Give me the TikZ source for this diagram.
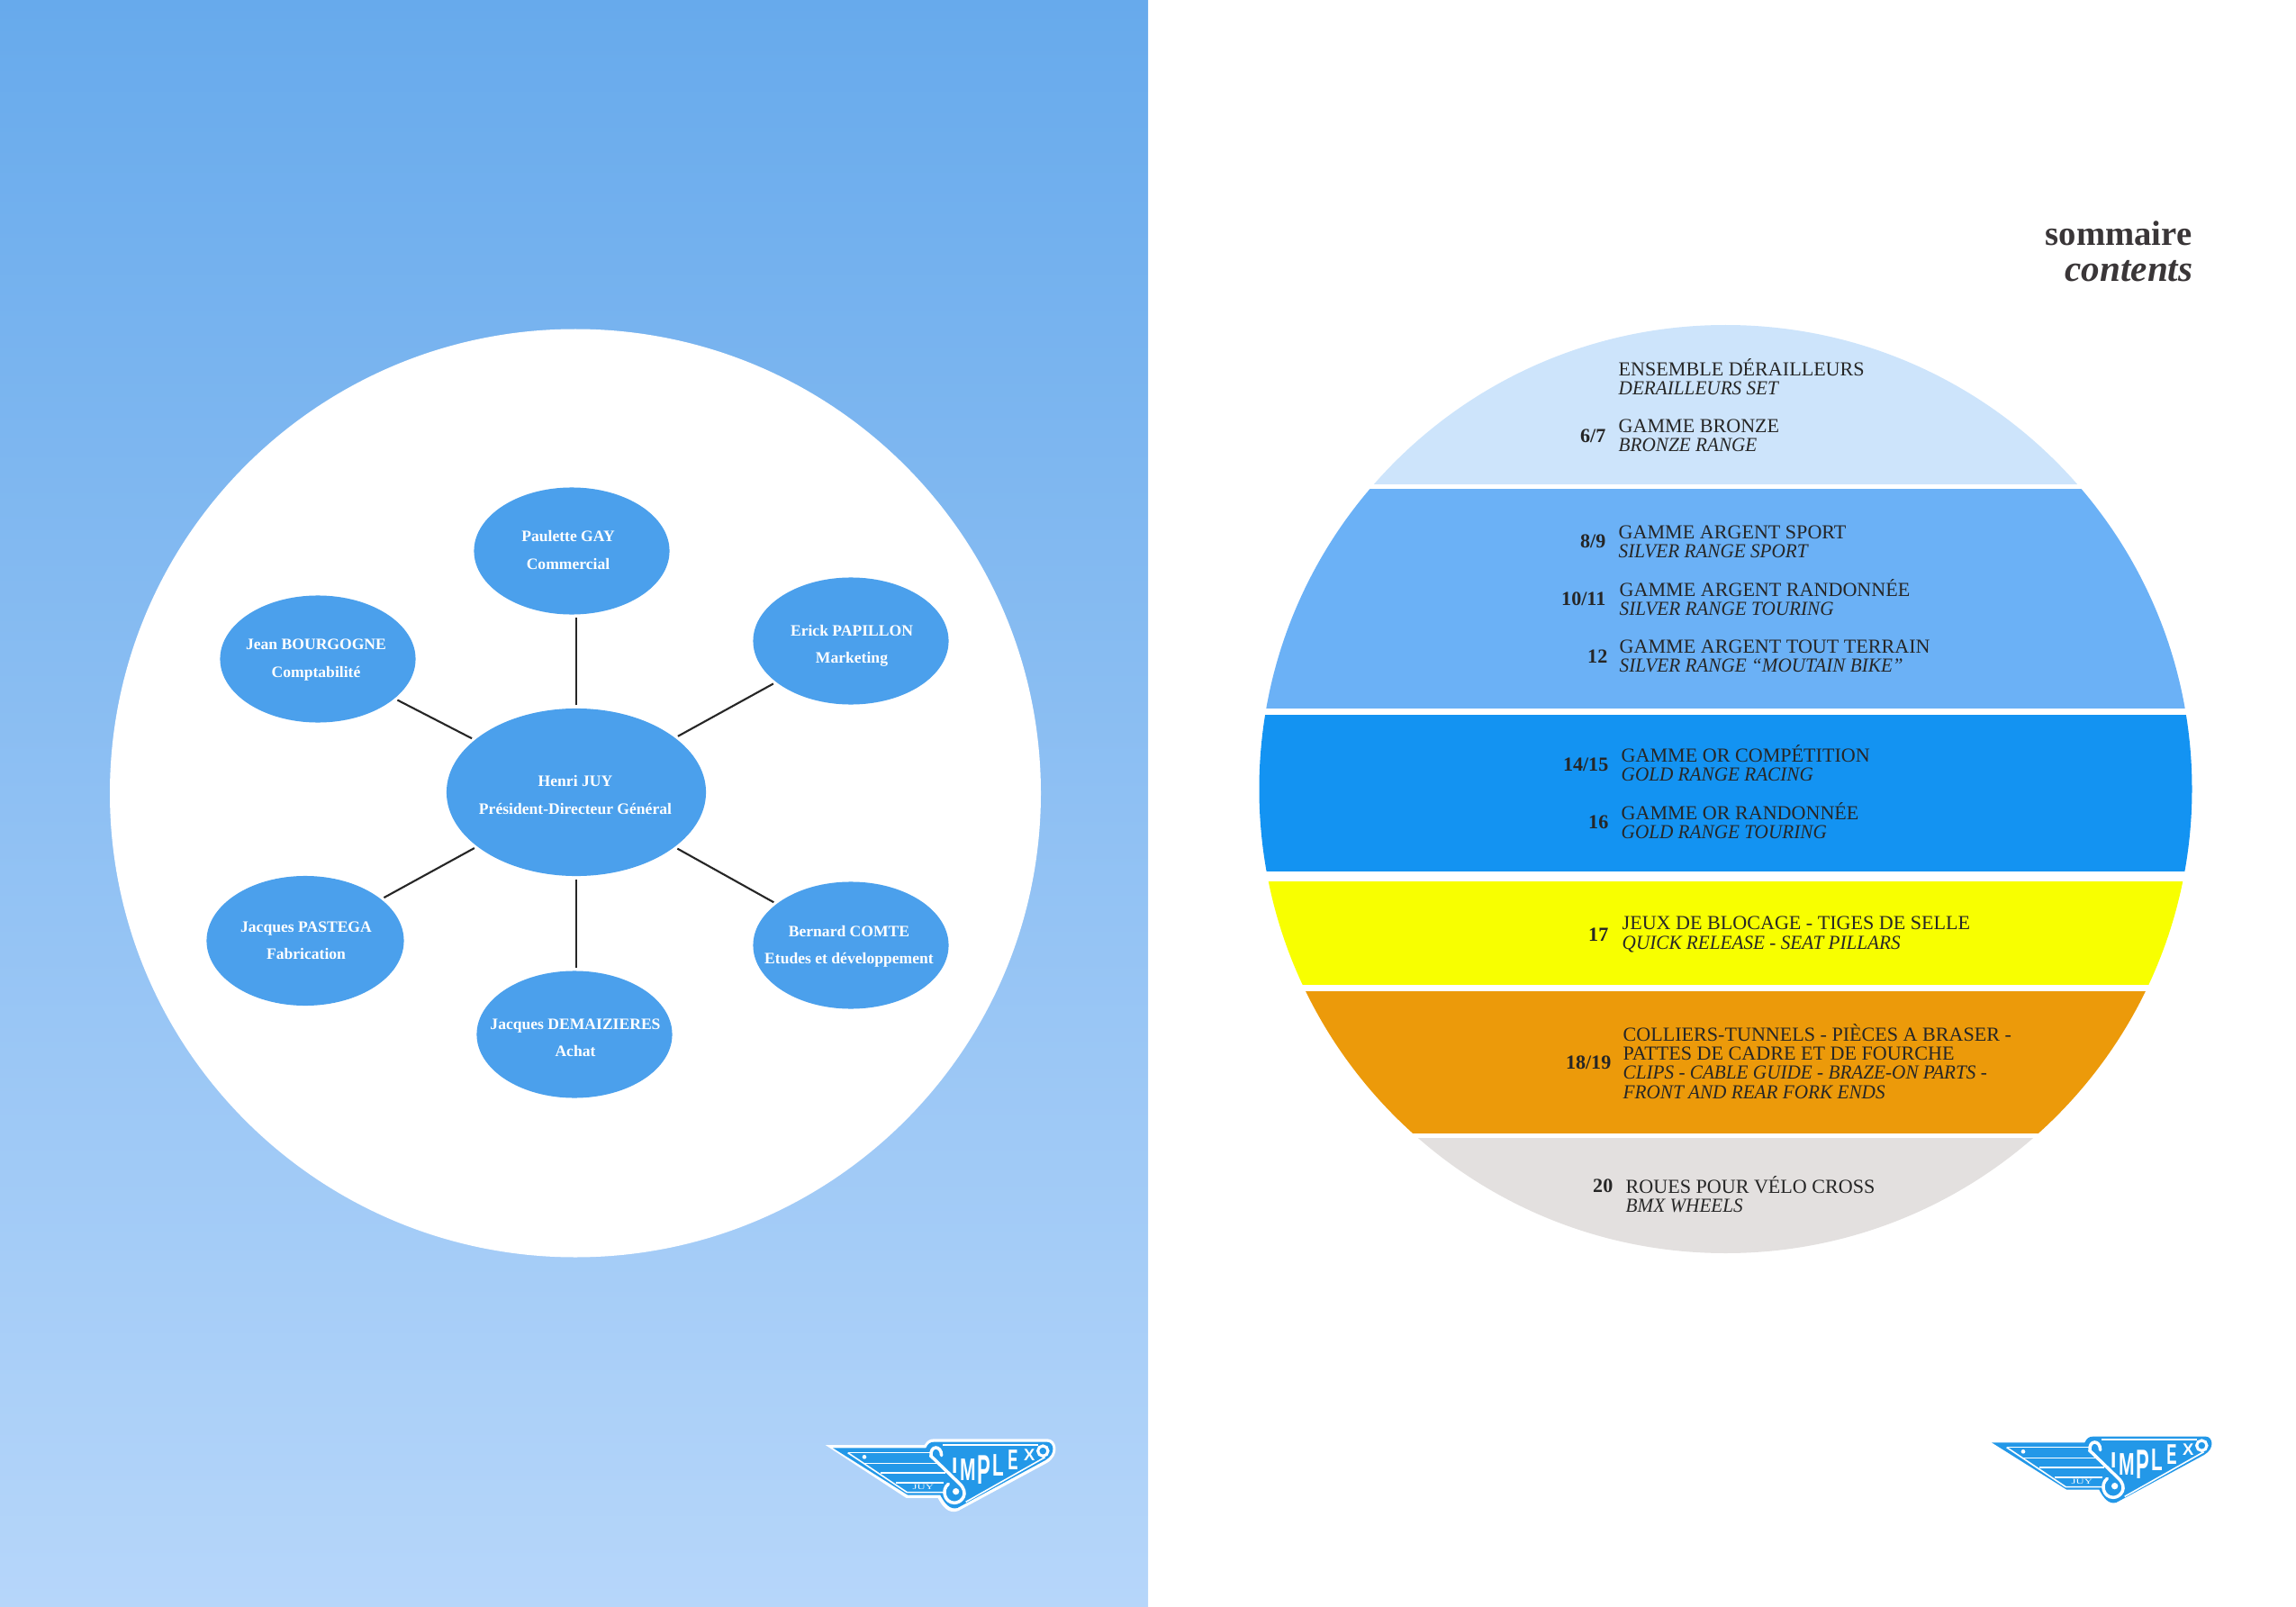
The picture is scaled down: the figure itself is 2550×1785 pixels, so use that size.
\documentclass[tikz,border=0pt]{standalone}
\usepackage{tikz}
\usepackage{fontspec}
\setmainfont{Liberation Serif}[ItalicFeatures={FakeStretch=0.96}]
\newfontfamily\logoface{Liberation Sans}
\usetikzlibrary{shapes.geometric}

\definecolor{skytop}{HTML}{67AAEC}
\definecolor{skymid}{HTML}{86BBF3}
\definecolor{skylow}{HTML}{B6D6FA}
\definecolor{staffblue}{HTML}{4BA0EC}
\definecolor{logoblue}{HTML}{2398E8}
\definecolor{bandpale}{HTML}{CDE4FB}
\definecolor{bandsilver}{HTML}{6BB1F6}
\definecolor{bandgold}{HTML}{1393F2}
\definecolor{bandyellow}{HTML}{F8FF00}
\definecolor{bandorange}{HTML}{EC9A0A}
\definecolor{bandgrey}{HTML}{E3E0DF}
\definecolor{inkdark}{HTML}{3A3638}

\tikzset{
  simplexlogo/.pic={
    \begin{scope}[scale=0.3333]
      \fill[white]
        (110,135) -- (440,135) .. controls (450,120) and (458,115) .. (472,115)
        -- (850,115) .. controls (882,115) and (892,170) .. (848,195)
        -- (552,355) .. controls (520,366) and (500,340) .. (485,312)
        -- (380,312) -- cycle;
      \fill[logoblue]
        (135,145) -- (445,145) .. controls (452,131) and (460,125) .. (472,125)
        -- (848,125) .. controls (872,125) and (880,165) .. (843,186)
        -- (550,345) .. controls (525,352) and (508,330) .. (493,302)
        -- (385,302) -- cycle;
      \begin{scope}[white,line width=0.45pt]
        \draw (185,161) -- (460,161);
        \draw (240,196) -- (482,196);
        \draw (295,228) -- (510,228);
        \draw (345,261) -- (505,261);
        \draw (185,161) -- (382,293) -- (503,293);
        \draw (500,135) -- (818,135);
        \draw (842,176) -- (578,325);
      \end{scope}
      \fill[white] (240,175) circle (7);
      \node[white,inner sep=0] (juy) at (436,276) {\resizebox{6.6pt}{1.5pt}{JUY}};
      \draw[white,line width=1pt,line cap=round]
        (497,170) .. controls (497,135) and (458,135) .. (462,172)
        -- (555,262) .. controls (592,295) and (565,328) .. (540,328)
        .. controls (508,328) and (495,285) .. (520,265);
      \fill[white] (545,290) circle (11);
      \draw[white,line width=0.9pt] (835,155) circle (17);
      \begin{scope}[every node/.style={white,inner sep=0,font=\logoface\bfseries}]
        \node (lI) at (541,203) {\resizebox{1.8pt}{4.8pt}{I}};
        \node (lM) at (585,217) {\resizebox{5pt}{6.8pt}{M}};
        \node (lP) at (640,218) {\resizebox{4.2pt}{9pt}{P}};
        \node (lL) at (687,203) {\resizebox{3.6pt}{6.8pt}{L}};
        \node (lE) at (735,185) {\resizebox{3.2pt}{6.2pt}{E}};
        \node (lX) at (790,167) {\resizebox{3.5pt}{3.6pt}{X}};
      \end{scope}
    \end{scope}
  }
}

\begin{document}
\begin{tikzpicture}[x=0.01cm,y=-0.01cm]
  \useasboundingbox (0,0) rectangle (2550,1785);

  \shade[top color=skytop,middle color=skymid,bottom color=skylow] (0,0) rectangle (1275,1785);
  \fill[white] (639,881) ellipse (517 and 515.5);

  \begin{scope}[every node/.style={ellipse,fill=staffblue,inner sep=0,outer sep=1pt,minimum width=2.17cm,minimum height=1.41cm}]
    \node (paulette) at (635,612) {};
    \node (erick) at (945,712) {};
    \node (jean) at (353,732) {};
    \node[minimum width=2.88cm,minimum height=1.86cm] (henri) at (640,880) {};
    \node[minimum width=2.19cm,minimum height=1.44cm] (pastega) at (339,1045) {};
    \node (bernard) at (945,1050) {};
    \node (achat) at (638,1149) {};
  \end{scope}

  \begin{scope}[every node/.style={text=white,inner sep=0,align=center,font=\fontsize{5}{8.6}\selectfont\bfseries}]
    \node (paulettetext) at (631,611) {Paulette GAY\\Commercial};
    \node (ericktext) at (946,717) {Erick PAPILLON\\Marketing};
    \node (jeantext) at (351,733) {Jean BOURGOGNE\\Comptabilité};
    \node (henritext) at (639,883) {Henri JUY\\Président-Directeur Général};
    \node (pastegatext) at (340,1045) {Jacques PASTEGA\\Fabrication};
    \node (bernardtext) at (943,1051) {Bernard COMTE\\Etudes et développement};
    \node (achattext) at (639,1153) {Jacques DEMAIZIERES\\Achat};
  \end{scope}

  \begin{scope}[every edge/.style={draw=black!85,line width=0.6pt}]
    \path (henri.north) edge (henri |- paulette.south);
    \path (henri) edge (erick);
    \path (henri) edge (jean);
    \path (henri) edge (pastega);
    \path (henri) edge (bernard);
    \path (henri.south) edge (henri |- achat.north);
  \end{scope}

  \pic at (880,1560) {simplexlogo};

  \begin{scope}
    \clip (1916.5,876.5) ellipse (518 and 515.5);
    \fill[bandpale] (1380,350) rectangle (2450,538);
    \fill[bandsilver] (1380,543) rectangle (2450,787);
    \fill[bandgold] (1380,794) rectangle (2450,968);
    \fill[bandyellow] (1380,979) rectangle (2450,1094);
    \fill[bandorange] (1380,1101) rectangle (2450,1259);
    \fill[bandgrey] (1380,1264) rectangle (2450,1400);
  \end{scope}

  \begin{scope}[every node/.style={anchor=west,inner sep=0,align=left,text=black!85,font=\fontsize{6.28}{6}\selectfont}]
    \node (ensemble) at (1797,419) {ENSEMBLE DÉRAILLEURS\\\textit{DERAILLEURS SET}};
    \node (bronze) at (1797,484) {GAMME BRONZE\\\textit{BRONZE RANGE}};
    \node (sport) at (1797,602) {GAMME ARGENT SPORT\\\textit{SILVER RANGE SPORT}};
    \node (rando) at (1798,664) {GAMME ARGENT RANDONNÉE\\\textit{SILVER RANGE TOURING}};
    \node (terrain) at (1798,729) {GAMME ARGENT TOUT TERRAIN\\\textit{SILVER RANGE “MOUTAIN BIKE”}};
    \node (compet) at (1800,848) {GAMME OR COMPÉTITION\\\textit{GOLD RANGE RACING}};
    \node (orrando) at (1800,912) {GAMME OR RANDONNÉE\\\textit{GOLD RANGE TOURING}};
    \node (blocage) at (1801,1038) {JEUX DE BLOCAGE - TIGES DE SELLE\\\textit{QUICK RELEASE - SEAT PILLARS}};
    \node (colliers) at (1802,1179) {COLLIERS-TUNNELS - PIÈCES A BRASER -\\PATTES DE CADRE ET DE FOURCHE\\\textit{CLIPS - CABLE GUIDE - BRAZE-ON PARTS -}\\\textit{FRONT AND REAR FORK ENDS}};
    \node (roues) at (1805,1327) {ROUES POUR VÉLO CROSS\\\textit{BMX WHEELS}};
  \end{scope}

  \begin{scope}[every node/.style={anchor=east,inner sep=0,text=black!85,font=\fontsize{6.28}{6}\selectfont\bfseries}]
    \node (p6) at (1784,484) {6/7};
    \node (p8) at (1784,601) {8/9};
    \node (p10) at (1784,665) {10/11};
    \node (p12) at (1786,729) {12};
    \node (p14) at (1787,849) {14/15};
    \node (p16) at (1787,913) {16};
    \node (p17) at (1787,1038) {17};
    \node (p18) at (1790,1180) {18/19};
    \node (p20) at (1792,1317) {20};
  \end{scope}

  \begin{scope}[every node/.style={anchor=east,inner sep=0,text=inkdark,font=\fontsize{11}{11}\selectfont\bfseries}]
    \node (sommaire) at (2435,259) {sommaire};
    \node[font=\fontsize{11.7}{11}\selectfont\bfseries] (contents) at (2436,301) {\textit{contents}};
  \end{scope}

  \pic at (2167,1554) {simplexlogo};
\end{tikzpicture}
\end{document}
